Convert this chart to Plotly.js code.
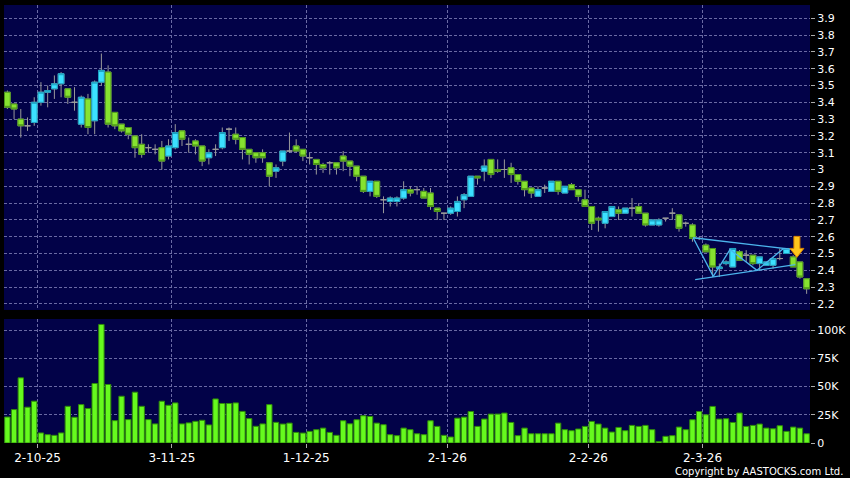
<!DOCTYPE html>
<html><head><meta charset="utf-8">
<script src="https://cdn.plot.ly/plotly-3.0.1.min.js"></script>
<style>html,body{margin:0;padding:0;background:#000;}#chart{width:850px;height:478px;}</style>
</head><body><div id="chart"></div>
<script>
// x tick positions (between trading-day slots) and labels
const dateTickIdx = [4.5, 24.5, 44.5, 65.5, 86.5, 103.5];
const dateTickLabels = ['2-10-25', '3-11-25', '1-12-25', '2-1-26', '2-2-26', '2-3-26'];
const priceTicks = [2.2,2.3,2.4,2.5,2.6,2.7,2.8,2.9,3.0,3.1,3.2,3.3,3.4,3.5,3.6,3.7,3.8,3.9];
const priceTickLabels = ['2.2','2.3','2.4','2.5','2.6','2.7','2.8','2.9','3','3.1','3.2','3.3','3.4','3.5','3.6','3.7','3.8','3.9'];
const volTicks = [0, 25, 50, 75, 100];
const volTickLabels = ['0', '25K', '50K', '75K', '100K'];

const open = [3.46,3.39,3.30,3.26,3.28,3.40,3.46,3.48,3.51,3.48,
  3.40,3.27,3.42,3.29,3.52,3.58,3.34,3.27,3.25,3.20,
  3.15,3.13,3.12,3.13,3.08,3.13,3.23,3.15,3.17,3.14,
  3.07,3.12,3.13,3.24,3.21,3.19,3.12,3.10,3.10,3.04,
  2.99,3.05,3.11,3.14,3.12,3.07,3.06,3.03,3.04,3.04,
  3.08,3.05,3.02,2.96,2.87,2.93,2.82,2.81,2.81,2.83,
  2.88,2.88,2.87,2.86,2.77,2.74,2.74,2.75,2.82,2.84,
  2.96,2.99,3.06,3.00,3.00,3.01,2.97,2.93,2.89,2.84,
  2.89,2.87,2.93,2.86,2.91,2.88,2.82,2.78,2.71,2.68,
  2.72,2.76,2.74,2.77,2.78,2.74,2.67,2.67,2.71,2.74,
  2.73,2.68,2.67,2.59,2.55,2.53,2.41,2.44,2.42,2.51,
  2.49,2.49,2.44,2.43,2.43,2.47,2.50,2.48,2.45,2.35];
const high = [3.47,3.39,3.36,3.31,3.43,3.52,3.50,3.56,3.58,3.48,
  3.49,3.44,3.45,3.53,3.69,3.62,3.34,3.27,3.25,3.20,
  3.21,3.15,3.15,3.17,3.18,3.27,3.23,3.19,3.18,3.14,
  3.12,3.15,3.25,3.25,3.25,3.19,3.12,3.10,3.12,3.04,
  3.03,3.11,3.22,3.18,3.12,3.10,3.06,3.04,3.05,3.04,
  3.11,3.05,3.02,2.96,2.93,2.93,2.84,2.84,2.84,2.93,
  2.90,2.90,2.89,2.89,2.77,2.74,2.78,2.84,2.86,2.96,
  2.96,3.06,3.06,3.06,3.06,3.04,2.97,2.93,2.89,2.90,
  2.91,2.93,2.93,2.90,2.92,2.88,2.88,2.78,2.72,2.75,
  2.78,2.78,2.77,2.83,2.80,2.74,2.70,2.71,2.71,2.77,
  2.73,2.69,2.68,2.60,2.56,2.53,2.44,2.46,2.53,2.52,
  2.52,2.49,2.48,2.45,2.48,2.53,2.53,2.49,2.45,2.35];
const low = [3.36,3.30,3.19,3.23,3.26,3.38,3.37,3.42,3.43,3.39,
  3.35,3.25,3.21,3.21,3.50,3.25,3.24,3.22,3.18,3.07,
  3.07,3.10,3.09,3.00,3.06,3.12,3.14,3.10,3.09,3.02,
  3.03,3.08,3.12,3.17,3.15,3.06,3.03,3.04,3.04,2.90,
  2.95,3.02,3.10,3.10,3.05,3.03,2.97,2.98,2.97,2.97,
  2.99,2.96,2.93,2.86,2.84,2.83,2.74,2.78,2.78,2.82,
  2.84,2.85,2.83,2.76,2.70,2.70,2.73,2.72,2.77,2.84,
  2.91,2.93,2.95,2.98,2.95,2.92,2.91,2.84,2.83,2.84,
  2.86,2.87,2.85,2.86,2.88,2.81,2.78,2.64,2.63,2.65,
  2.72,2.70,2.74,2.72,2.74,2.66,2.67,2.66,2.69,2.70,
  2.63,2.66,2.57,2.58,2.51,2.36,2.36,2.43,2.42,2.46,
  2.45,2.43,2.40,2.43,2.41,2.46,2.50,2.42,2.35,2.26];
const close = [3.37,3.36,3.26,3.26,3.40,3.46,3.47,3.51,3.57,3.43,
  3.40,3.43,3.25,3.52,3.59,3.27,3.26,3.23,3.21,3.13,
  3.09,3.13,3.12,3.05,3.14,3.22,3.18,3.15,3.14,3.05,
  3.10,3.12,3.22,3.24,3.18,3.12,3.09,3.07,3.07,2.96,
  3.01,3.11,3.11,3.11,3.08,3.07,3.03,3.01,3.04,3.01,
  3.05,3.02,2.96,2.87,2.93,2.84,2.82,2.83,2.83,2.88,
  2.86,2.88,2.83,2.78,2.75,2.74,2.77,2.81,2.85,2.96,
  2.95,3.02,2.97,2.99,3.00,2.97,2.93,2.88,2.86,2.88,
  2.89,2.93,2.87,2.90,2.88,2.84,2.78,2.68,2.70,2.75,
  2.78,2.74,2.77,2.77,2.74,2.67,2.70,2.70,2.71,2.74,
  2.65,2.68,2.59,2.59,2.51,2.42,2.42,2.45,2.53,2.46,
  2.49,2.44,2.48,2.45,2.47,2.47,2.53,2.42,2.36,2.29];
const volumeK = [23,29.6,57.7,31.7,37,8.9,7.4,6.8,8.9,32.5,
  22.8,34,30.5,52.7,105,51.8,19.8,41.4,20.7,45,
  32.5,20.7,16.9,37,33.4,35.5,16.9,17.8,19.2,20.1,
  16,39,35,35,35.5,28,21.6,14.8,16.9,34,
  18.3,16.8,17.6,9.4,8.8,10.3,11.8,13.2,9.4,6.8,
  19.7,17,20.6,24.1,23.5,17.6,16.2,7.4,6.5,13.2,
  11.8,8.2,7.4,19.7,14.7,6.8,5.3,22,22.9,27.9,
  14.7,21.2,25.6,25.6,26.5,18.2,6.5,13.2,8.2,8.2,
  8.2,8.2,17.6,11.8,10.9,12.4,14.7,19.1,16.8,13.2,
  9.7,13.8,10.9,15.6,14.7,15.6,11.8,1.2,5.9,6.5,
  14.1,11.8,20.6,27.9,25,32.4,21.2,21.5,18.2,26.5,
  14.7,15.6,16.8,13.2,12.6,15.3,10.3,14.1,13.2,8.2];

// chart-pattern drawing (index, price)
const patternUpperX = [102.1, 117.0], patternUpperY = [2.594, 2.524];
const patternLowerX = [102.4, 117.3], patternLowerY = [2.344, 2.434];
const patternZigX = [102.1, 105.1, 107.6, 111.6, 115.5];
const patternZigY = [2.594, 2.364, 2.524, 2.400, 2.528];
const signalX = 117.55, signalY = 2.477;

const idx = open.map((_, i) => i);
const bodyIdx = idx.filter(i => open[i] !== close[i]);
const pick = (arr) => bodyIdx.map(i => arr[i]);

const FONT = 'DejaVu Sans';
const wickCol = '#9a9a9a';
const traces = [
  {type:'candlestick', x: idx, open, high, low, close, xaxis:'x', yaxis:'y',
   whiskerwidth:0, hoverinfo:'skip',
   increasing:{line:{color:wickCol,width:1}, fillcolor:wickCol},
   decreasing:{line:{color:wickCol,width:1}, fillcolor:wickCol}},
  {type:'candlestick', x: bodyIdx, open: pick(open), close: pick(close),
   high: bodyIdx.map(i => Math.max(open[i], close[i])),
   low: bodyIdx.map(i => Math.min(open[i], close[i])),
   xaxis:'x', yaxis:'y', whiskerwidth:0, hoverinfo:'skip',
   increasing:{line:{color:'#1c9fc0',width:1}, fillcolor:'#3ce0ff'},
   decreasing:{line:{color:'#4a9418',width:1}, fillcolor:'#86e230'}},
  {type:'scatter', mode:'lines', x: patternUpperX, y: patternUpperY, xaxis:'x', yaxis:'y',
   line:{color:'#4cb4ec', width:1.3}, hoverinfo:'skip'},
  {type:'scatter', mode:'lines', x: patternLowerX, y: patternLowerY, xaxis:'x', yaxis:'y',
   line:{color:'#4cb4ec', width:1.3}, hoverinfo:'skip'},
  {type:'scatter', mode:'lines', x: patternZigX, y: patternZigY, xaxis:'x', yaxis:'y',
   line:{color:'#4cb4ec', width:1.3}, hoverinfo:'skip'},
  {type:'bar', x: idx, y: volumeK, xaxis:'x', yaxis:'y2',
   marker:{color:'#66fa1e', line:{color:'#2f8a0a', width:1}}, hoverinfo:'skip'}
];

const gridStyle = {showgrid:true, gridcolor:'#6a6aa4', griddash:'3px,2px', gridwidth:1};
const layout = {
  width:850, height:478,
  paper_bgcolor:'#000000', plot_bgcolor:'#020248',
  margin:{l:4, r:40, t:5, b:35},
  showlegend:false, hovermode:false,
  boxgap:0.14, boxgroupgap:0, bargap:0.2,
  font:{family:FONT, color:'#ffffff', size:11},
  xaxis: Object.assign({
    range:[-0.5, 119.5], anchor:'y2', rangeslider:{visible:false},
    tickmode:'array', tickvals: dateTickIdx, ticktext: dateTickLabels,
    ticks:'outside', ticklen:4, tickcolor:'#aaaaaa',
    tickfont:{family:FONT, size:12, color:'#ffffff'},
    zeroline:false, showline:false, fixedrange:true
  }, gridStyle),
  yaxis: Object.assign({
    domain:[0.3037, 1], range:[2.164, 3.979], side:'right',
    tickmode:'array', tickvals: priceTicks, ticktext: priceTickLabels,
    ticks:'outside', ticklen:4, tickcolor:'#aaaaaa',
    tickfont:{family:FONT, size:11, color:'#ffffff'},
    zeroline:false, showline:false, fixedrange:true
  }, gridStyle),
  yaxis2: Object.assign({
    domain:[0, 0.2831], range:[0, 109.8], side:'right', anchor:'x',
    tickmode:'array', tickvals: volTicks, ticktext: volTickLabels,
    ticks:'outside', ticklen:4, tickcolor:'#aaaaaa',
    tickfont:{family:FONT, size:11, color:'#ffffff'},
    zeroline:false, showline:false, fixedrange:true
  }, gridStyle),
  shapes:[
    {type:'path', xref:'x', yref:'y', xsizemode:'pixel', ysizemode:'pixel',
     xanchor: signalX, yanchor: signalY,
     path:'M0,0 L-7,9 L-3,9 L-3,21 L3,21 L3,9 L7,9 Z',
     fillcolor:'#ffc61c', line:{color:'#d98200', width:1}, layer:'above'}
  ],
  annotations:[
    {xref:'paper', yref:'paper', x:1.0434, y:-0.064, xanchor:'right', yanchor:'middle',
     text:'Copyright by AASTOCKS.com Ltd.', showarrow:false,
     font:{family:FONT, size:10, color:'#ffffff'}}
  ]
};
Plotly.newPlot('chart', traces, layout, {staticPlot:true, displayModeBar:false});
</script>
</body></html>
